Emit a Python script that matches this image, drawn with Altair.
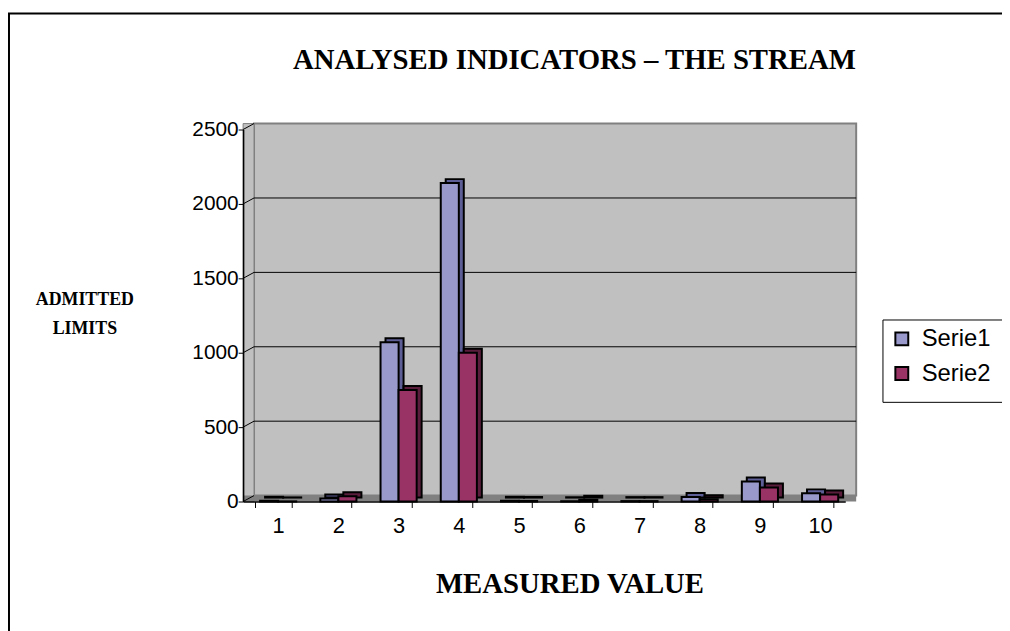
import altair as alt
import pandas as pd

categories = ["1", "2", "3", "4", "5", "6", "7", "8", "9", "10"]
serie1 = [5, 20, 1070, 2140, 5, 2, 3, 30, 135, 55]
serie2 = [1, 35, 750, 1000, 4, 12, 3, 15, 95, 48]
series_names = ["Serie1", "Serie2"]
y_ticks = [0, 500, 1000, 1500, 2000, 2500]
grid_ticks = [500, 1000, 1500, 2000]

front_colors = ["#9999CC", "#993366"]
side_colors = ["#5E5E96", "#5A1E3C"]

rows = []
for c, a, b in zip(categories, serie1, serie2):
    rows.append({"cat": c, "series": "Serie1", "value": a})
    rows.append({"cat": c, "series": "Serie2", "value": b})
df = pd.DataFrame(rows)

W, H = 607, 375
DX, DY = 11, -6  # back wall offset
PAD_IN, PAD_OUT = 0.4, 0.2
STEP = W / (len(categories) - PAD_IN + 2 * PAD_OUT)
BW = STEP * (1 - PAD_IN)
SHIFT = 5
SDX, SDY = 5, -4  # bar depth

one = pd.DataFrame({"k": [0]})
ticks_df = pd.DataFrame({"v": y_ticks})
grid_df = pd.DataFrame({"v": grid_ticks})

yscale = alt.Scale(domain=[0, 2500], nice=False)

frame = alt.Chart(one).mark_rect(fillOpacity=0, stroke="black", strokeWidth=2).encode(
    x=alt.value(-236), x2=alt.value(800), y=alt.value(-117), y2=alt.value(520)
)
wall = alt.Chart(one).mark_rect(fill="#C0C0C0", stroke="#808080", strokeWidth=2).encode(
    x=alt.value(DX), x2=alt.value(W + DX), y=alt.value(DY), y2=alt.value(H + DY)
)
side_wall = alt.Chart(one).mark_rect(fill="#C0C0C0", stroke="#808080", strokeWidth=1).encode(
    x=alt.value(0), x2=alt.value(DX), y=alt.value(DY), y2=alt.value(H)
)
floor = alt.Chart(one).mark_rect(fill="#808080").encode(
    x=alt.value(0), x2=alt.value(W + DX), y=alt.value(H + DY), y2=alt.value(H)
)
grid = alt.Chart(grid_df).mark_rule(color="black", strokeWidth=1, yOffset=DY).encode(
    y=alt.Y("v:Q", scale=yscale), x=alt.value(DX), x2=alt.value(W + DX)
)
conn = alt.Chart(ticks_df).mark_rule(color="black", strokeWidth=1, y2Offset=DY).encode(
    y=alt.Y("v:Q", scale=yscale), y2="v:Q", x=alt.value(0), x2=alt.value(DX)
)

xenc = alt.X(
    "cat:N",
    sort=categories,
    scale=alt.Scale(paddingInner=PAD_IN, paddingOuter=PAD_OUT),
    axis=alt.Axis(
        title="MEASURED VALUE",
        titleFont="Liberation Serif",
        titleFontSize=29,
        titleFontWeight="bold",
        titleColor="black",
        titleX=329,
        titleY=92,
        titleAlign="center",
        titleBaseline="alphabetic",
        labelAngle=0,
        labelFont="Liberation Sans",
        labelFontSize=22,
        labelColor="black",
        labelPadding=8,
        labelOffset=5,
        tickBand="extent",
        tickSize=6,
        tickColor="black",
        domainColor="black",
        domainWidth=1.5,
        grid=False,
        zindex=1,
    ),
)

yaxis = alt.Axis(
    values=y_ticks,
    format="d",
    title=["ADMITTED", "LIMITS"],
    titleFont="Liberation Serif",
    titleFontSize=18,
    titleFontWeight="bold",
    titleColor="black",
    titleAngle=0,
    titleX=-160,
    titleY=176,
    titleAlign="center",
    titleBaseline="alphabetic",
    titleLineHeight=30,
    labelFont="Liberation Sans",
    labelFontSize=21,
    labelColor="black",
    labelPadding=0,
    tickSize=5,
    tickColor="black",
    domainColor="black",
    domainWidth=1.5,
    grid=False,
    zindex=1,
)

side = alt.Chart(df).mark_bar(yOffset=SDY, stroke="black", strokeWidth=2).encode(
    x=xenc,
    xOffset=alt.XOffset("series:N", sort=series_names,
                        scale=alt.Scale(domain=series_names, range=[SHIFT + SDX, BW + SHIFT + SDX])),
    y=alt.Y("value:Q", scale=yscale, axis=yaxis),
    color=alt.Color("series:N", scale=alt.Scale(domain=series_names, range=side_colors), legend=None),
)

front = alt.Chart(df).mark_bar(stroke="black", strokeWidth=2).encode(
    x=xenc,
    xOffset=alt.XOffset("series:N", sort=series_names,
                        scale=alt.Scale(domain=series_names, range=[SHIFT, BW + SHIFT])),
    y=alt.Y("value:Q", scale=yscale, axis=yaxis),
    color=alt.Color(
        "series:N",
        scale=alt.Scale(domain=series_names, range=front_colors),
        legend=alt.Legend(
            title=None,
            orient="none",
            legendX=652,
            legendY=199,
            padding=0,
            symbolType="square",
            symbolSize=169,
            symbolStrokeColor="black",
            symbolStrokeWidth=2,
            symbolOpacity=1,
            labelFont="Liberation Sans",
            labelFontSize=24,
            labelColor="black",
            labelOffset=8,
            rowPadding=11,
        ),
    ),
)

legend_box = alt.Chart(one).mark_rect(fill="white", stroke="black", strokeWidth=1).encode(
    x=alt.value(645), x2=alt.value(790), y=alt.value(192), y2=alt.value(275)
)

title = alt.Chart(one).mark_text(
    text="ANALYSED INDICATORS – THE STREAM",
    font="Liberation Serif",
    fontSize=29,
    fontWeight="bold",
    color="black",
    align="center",
    baseline="middle",
).encode(x=alt.value(334), y=alt.value(-70))

chart = (
    alt.layer(frame, legend_box, wall, side_wall, floor, grid, conn, side, front, title)
    .resolve_scale(color="independent", xOffset="independent")
    .properties(
        width=W,
        height=H,
        padding={"left": 237, "top": 120, "right": 158, "bottom": 128},
        autosize=alt.AutoSizeParams(type="none"),
        background="white",
    )
    .configure_view(stroke=None)
)

chart.save("out.html", embed_options={"renderer": "svg", "actions": False})
